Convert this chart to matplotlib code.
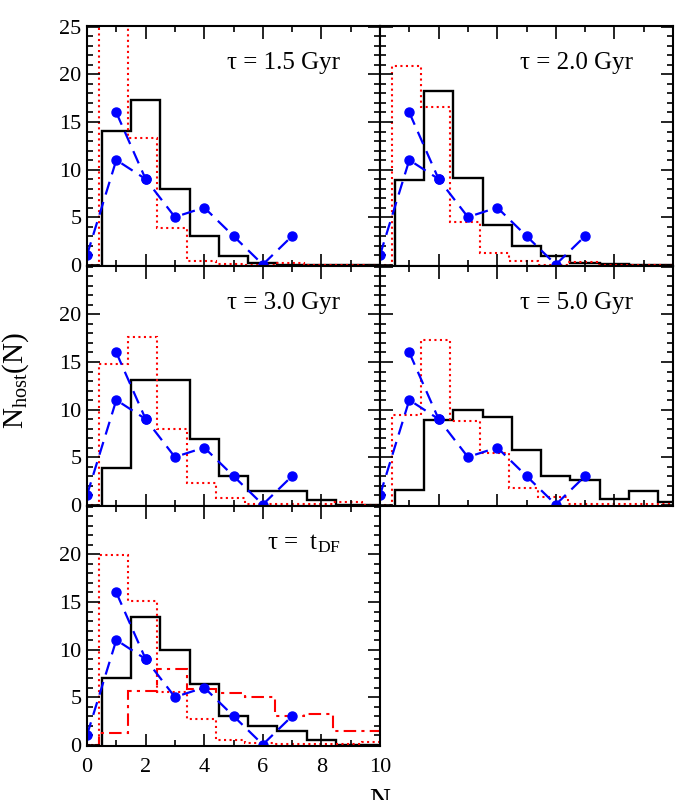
import numpy as np
import matplotlib

matplotlib.use("Agg")
import matplotlib.pyplot as plt
from matplotlib.ticker import MultipleLocator

plt.rcParams["font.family"] = ["Liberation Serif", "DejaVu Serif"]
plt.rcParams["mathtext.fontset"] = "custom"
plt.rcParams["mathtext.rm"] = "Liberation Serif"
plt.rcParams["mathtext.it"] = "Liberation Serif:italic"

# observed distribution (blue dashed + dots)
obs_n = [0, 1, 2, 3, 4, 5, 6, 7]
obs_main = [1.0, 11.0, 9.0, 5.0, 6.0, 3.0, 0.0, 3.0]
obs_alt_n = [1, 2]
obs_alt = [16.0, 9.0]

# model histograms, bins centred on N = 1..10 (black) and N = 0..10 (red, shifted)
labels = ["τ = 1.5 Gyr", "τ = 2.0 Gyr", "τ = 3.0 Gyr", "τ = 5.0 Gyr",
          r"τ =  $\mathrm{t_{DF}}$"]
black_hist = [
    [14.1, 17.3, 7.9, 3.05, 0.9, 0.2, 0.0, 0.0, 0.0, 0.0],
    [8.85, 18.3, 9.15, 4.2, 1.93, 0.9, 0.18, 0.05, 0.0, 0.0],
    [3.8, 13.15, 13.15, 6.9, 2.97, 1.43, 1.43, 0.45, 0.0, 0.0],
    [1.57, 8.9, 9.95, 9.2, 5.76, 2.97, 2.55, 0.63, 1.43, 0.24],
    [7.05, 13.37, 9.98, 6.35, 3.04, 1.95, 1.43, 0.45, 0.0, 0.0],
]
red_hist = [
    [0.0, 27.0, 13.3, 3.85, 0.4, 0.1, 0.0, 0.15, 0.0, 0.0, 0.0],
    [0.0, 20.9, 16.6, 4.5, 1.2, 0.4, 0.0, 0.25, 0.0, 0.0, 0.0],
    [0.0, 14.8, 17.6, 7.9, 2.27, 0.7, 0.07, 0.05, 0.1, 0.25, 0.0],
    [0.0, 9.4, 17.3, 8.76, 5.4, 1.7, 0.8, 0.07, 0.05, 0.05, 0.05],
    [0.0, 19.9, 15.1, 5.5, 2.65, 0.52, 0.2, 0.1, 0.1, 0.1, 0.28],
]
# extra dash-dot histogram in the t_DF panel
tdf_dashdot = [0.0, 1.26, 5.6, 7.96, 5.86, 5.4, 5.0, 2.97, 3.25, 1.43, 1.43]

black_edges = np.arange(0.5, 11.0, 1.0)
red_edges = np.arange(-0.6, 10.5, 1.0)

fig = plt.figure(figsize=(7, 8), dpi=100)

W, H = 700.0, 800.0
col_left = [87, 380]
row_top = [26, 266, 506]
pw, ph = 293, 240


def make_axes(row, col):
    rect = [col_left[col] / W, 1 - (row_top[row] + ph) / H, pw / W, ph / H]
    return fig.add_axes(rect)


def draw_panel(ax, idx, show_y, show_x, top_label):
    ax.stairs(black_hist[idx], black_edges, baseline=0, color="black", lw=1.7)
    ax.stairs(red_hist[idx], red_edges, baseline=0, color="red", lw=1.5, linestyle=":")
    if idx == 4:
        ax.stairs(tdf_dashdot, red_edges, baseline=0, color="red", lw=1.5,
                  linestyle=(0, (6, 2.5, 1.5, 2.5)))
    ax.plot(obs_n, obs_main, color="blue", lw=1.6, dashes=(6, 3.5),
            marker="o", ms=6.5)
    ax.plot(obs_alt_n, obs_alt, color="blue", lw=1.6, dashes=(6, 3.5),
            marker="o", ms=6.5)

    ax.set_xlim(0, 10)
    ax.set_ylim(-0.15, 25.1)
    ax.xaxis.set_major_locator(MultipleLocator(2))
    ax.xaxis.set_minor_locator(MultipleLocator(1))
    ax.yaxis.set_major_locator(MultipleLocator(5))
    ax.yaxis.set_minor_locator(MultipleLocator(1))
    ax.tick_params(which="both", direction="in", top=True, right=True,
                   labelsize=16, width=1.2)
    ax.tick_params(which="major", length=9)
    ax.tick_params(which="minor", length=4.5)
    ax.tick_params(axis="x", pad=9)
    ax.tick_params(axis="y", pad=4)
    for spine in ax.spines.values():
        spine.set_linewidth(1.5)

    if show_y:
        ticks = [0, 5, 10, 15, 20, 25] if top_label else [0, 5, 10, 15, 20]
        ax.set_yticks(ticks)
        ax.set_yticklabels([str(t) for t in ticks])
    else:
        ax.set_yticklabels([])
    if not show_x:
        ax.set_xticklabels([])

    ax.text(0.865, 0.845, labels[idx], transform=ax.transAxes,
            ha="right", va="center", fontsize=18)


layout = [(0, 0), (0, 1), (1, 0), (1, 1), (2, 0)]
for idx, (row, col) in enumerate(layout):
    ax = make_axes(row, col)
    draw_panel(ax, idx, show_y=(col == 0), show_x=(row == 2), top_label=(row == 0))

fig.text(16 / W, 1 - 380 / H, r"$\mathrm{N_{host}(N)}$", rotation=90,
         ha="center", va="center", fontsize=21)
fig.text(380 / W, 1 - 788 / H, "N", ha="center", va="top", fontsize=21)

fig.savefig("out.png", dpi=100)
